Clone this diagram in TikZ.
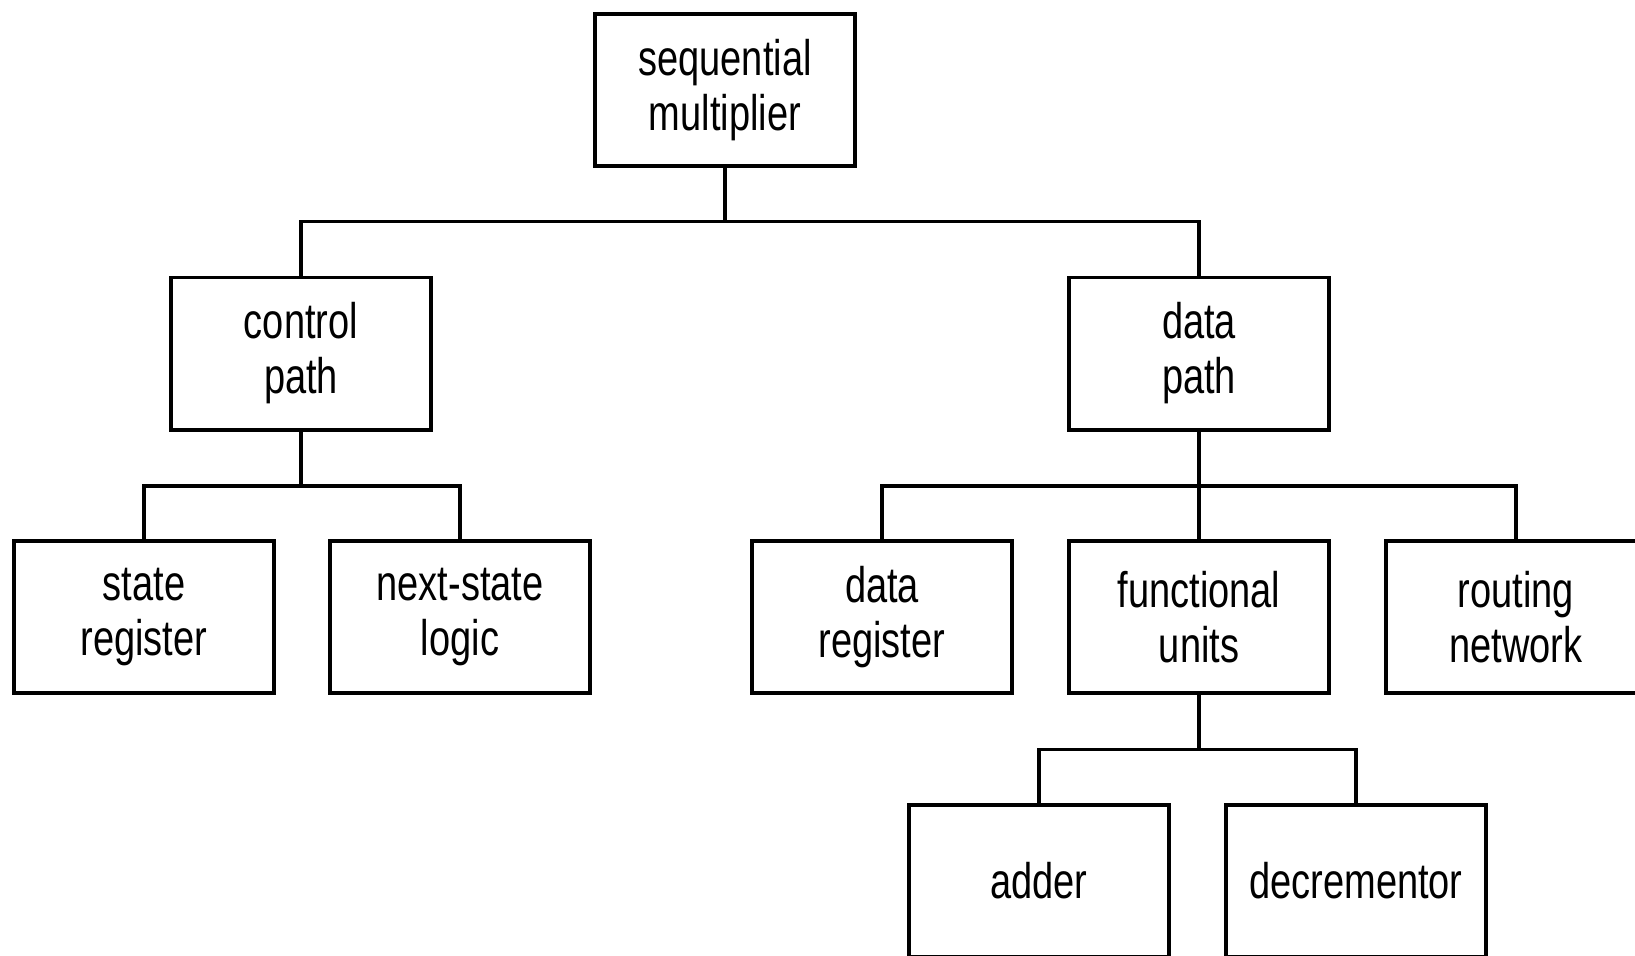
\documentclass[tikz,border=0pt]{standalone}
\usepackage{fontspec}
\setmainfont{Liberation Sans}[FakeStretch=0.76]
\begin{document}
\begin{tikzpicture}[x=0.5pt,y=-0.5pt,
  box/.style={draw, line width=1.8pt, minimum width=130.2pt, minimum height=76.2pt,
    align=center, inner sep=0pt, font=\fontsize{25pt}{27.5pt}\selectfont},
  link/.style={line width=1.8pt}]
\path[use as bounding box] (0,0) rectangle (1635,955);
\fill[white] (0,0) rectangle (1635,955);
\clip (0,0) rectangle (1635,955);

% levels of the hierarchy
\node[box] (top) at (725,90)    {sequential\\multiplier};
\node[box] (cp)  at (301,353.5) {control\\path};
\node[box] (dp)  at (1199,353.5){data\\path};
\node[box] (sr)  at (144,617)   {state\\register};
\node[box] (ns)  at (460,617)   {next-state\\logic};
\node[box] (dr)  at (882,617)   {data\\register};
\node[box] (fu)  at (1199,617)  {functional\\units};
\node[box] (rn)  at (1516,617)  {routing\\network};
\node[box] (ad)  at (1039,881)  {adder};
\node[box] (dc)  at (1356,881)  {decrementor};

% bus levels
\coordinate (b1) at (0,221.5);
\coordinate (b2) at (0,486);
\coordinate (b3) at (0,749.5);

% tree connectors
\draw[link] (top.south) -- (top.south |- b1);
\draw[link] (cp.north) |- (dp.north |- b1) -- (dp.north);

\draw[link] (cp.south) -- (cp.south |- b2);
\draw[link] (sr.north) |- (ns.north |- b2) -- (ns.north);

\draw[link] (dp.south) -- (fu.north);
\draw[link] (dr.north) |- (rn.north |- b2) -- (rn.north);

\draw[link] (fu.south) -- (fu.south |- b3);
\draw[link] (ad.north) |- (dc.north |- b3) -- (dc.north);
\end{tikzpicture}
\end{document}
